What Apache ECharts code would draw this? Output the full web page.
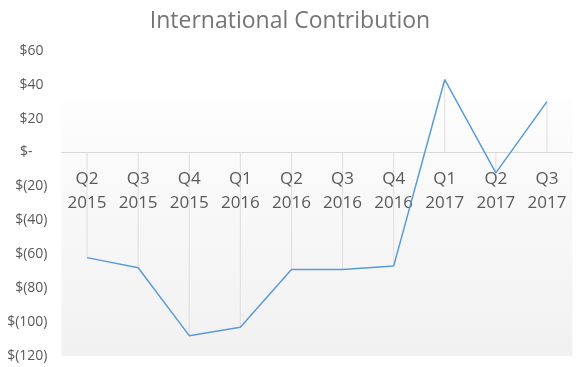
<!DOCTYPE html>
<html>
<head>
<meta charset="utf-8">
<script src="https://cdn.jsdelivr.net/npm/echarts@6/dist/echarts.min.js"></script>
<style>
html,body{margin:0;padding:0;background:#fff;}
#chart{width:580px;height:367px;}
</style>
</head>
<body>
<div id="chart"></div>
<script>
var chartTitle = 'International Contribution';
var categories = ['Q2\n2015','Q3\n2015','Q4\n2015','Q1\n2016','Q2\n2016','Q3\n2016','Q4\n2016','Q1\n2017','Q2\n2017','Q3\n2017'];
var contribution = [-62, -68, -108, -103, -69, -69, -67, 43, -12, 30];
var yMin = -120, yMax = 60, yStep = 20;
var plotAreaTop = 30;

function fmtNeg(v){ return v < 0 ? '$(' + Math.abs(v) + ')' : ''; }
function fmtPos(v){ return v > 0 ? '$' + v : ''; }
function fmtZero(v){ return v === 0 ? '$-' : ''; }

var W = 580, H = 367;
var gridTop = 50.7, gridBottom = 11, gridLeft = 61.5, gridRight = 7.5;
var plotH = H - gridTop - gridBottom;
var zeroY = gridTop + (yMax - 0) / (yMax - yMin) * plotH;

function labelAxis(formatter, margin){
  return {
    type:'value', gridIndex:0, position:'left', offset:0,
    min:yMin, max:yMax, interval:yStep,
    axisLine:{show:false},
    axisTick:{show:false},
    splitLine:{show:false},
    axisLabel:{formatter:formatter, margin:margin, fontFamily:'Open Sans', fontSize:14, color:'#595959'}
  };
}

var chart = echarts.init(document.getElementById('chart'), null, {renderer:'canvas'});
chart.setOption({
  animation:false,
  backgroundColor:'#ffffff',
  title:{
    text: chartTitle,
    left:'center', top:5,
    textStyle:{fontFamily:'Open Sans', fontSize:23, fontWeight:'normal', color:'#757575'}
  },
  grid:[
    {left:gridLeft, right:gridRight, top:gridTop, bottom:gridBottom, containLabel:false, outerBoundsMode:'none'},
    {left:gridLeft, right:gridRight, top:gridTop, bottom:H - zeroY, containLabel:false, outerBoundsMode:'none'}
  ],
  xAxis:[
    {
      type:'category', gridIndex:0,
      data: categories,
      boundaryGap:true,
      axisLine:{show:false},
      axisTick:{show:false},
      axisLabel:{show:false},
      splitLine:{show:false}
    },
    {
      type:'category', gridIndex:1,
      data: categories,
      boundaryGap:true,
      position:'bottom',
      z:2.5,
      axisLine:{show:true, onZero:false, lineStyle:{color:'#d9d9d9', width:1}},
      axisTick:{show:false},
      axisLabel:{fontFamily:'Open Sans', fontSize:17, color:'#595959', lineHeight:24, margin:15, interval:0},
      splitLine:{show:false}
    }
  ],
  yAxis:[
    labelAxis(fmtNeg, 14),
    {
      type:'value', gridIndex:1,
      min:0, max:1,
      show:false
    },
    labelAxis(fmtPos, 18),
    labelAxis(fmtZero, 29)
  ],
  series:[
    {
      type:'bar',
      xAxisIndex:0, yAxisIndex:0,
      data: contribution,
      barWidth:1,
      silent:true,
      z:2,
      itemStyle:{color:'#dedede'},
      markArea:{
        silent:true,
        itemStyle:{
          color:new echarts.graphic.LinearGradient(0,0,0,1,[{offset:0,color:'#fdfdfd'},{offset:1,color:'#f1f1f1'}])
        },
        data:[[{yAxis:plotAreaTop},{yAxis:yMin}]]
      }
    },
    {
      type:'line',
      xAxisIndex:0, yAxisIndex:0,
      data: contribution,
      symbol:'none',
      z:3,
      lineStyle:{color:'#5b9bd5', width:1.5},
      itemStyle:{color:'#5b9bd5'}
    }
  ]
});
</script>
</body>
</html>
